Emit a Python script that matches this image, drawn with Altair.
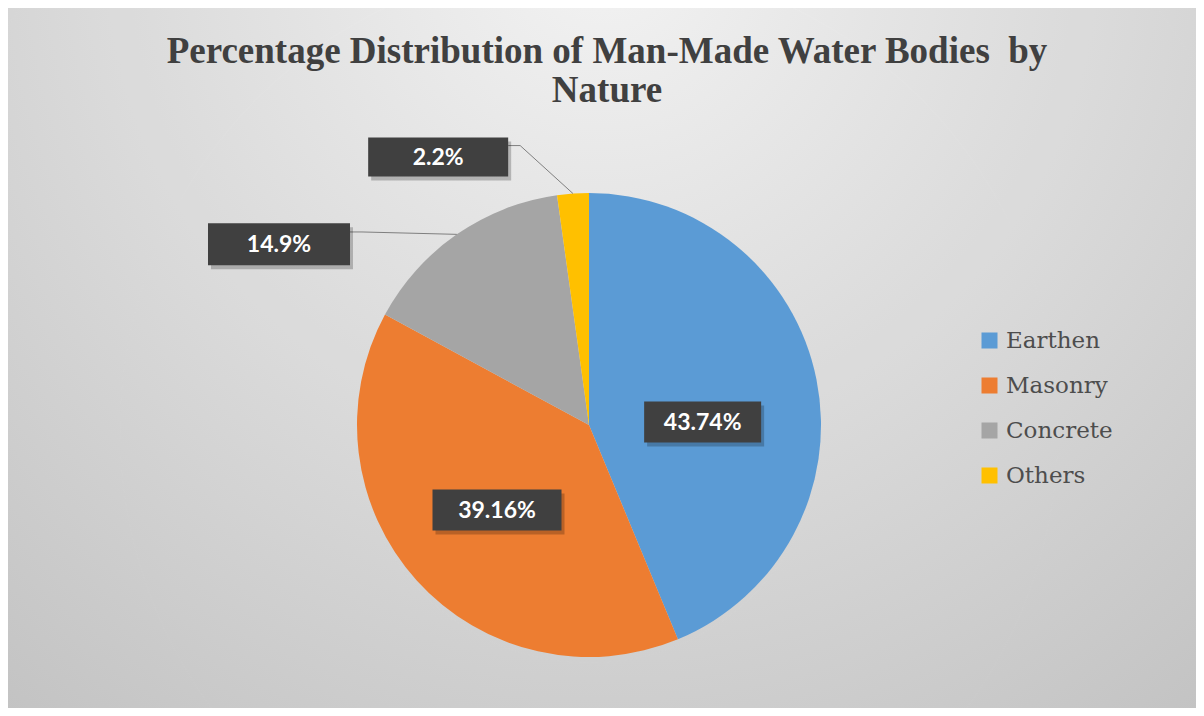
import math
import numpy as np
import pandas as pd
import altair as alt

# ---------------- data ----------------
CATEGORIES = ["Earthen", "Masonry", "Concrete", "Others"]
VALUES = [43.74, 39.16, 14.9, 2.2]
LABELS = ["43.74%", "39.16%", "14.9%", "2.2%"]
COLORS = ["#5B9BD5", "#ED7D31", "#A5A5A5", "#FFC000"]
TITLE = "Percentage Distribution of Man-Made Water Bodies\u00a0 by\nNature"

# ---------------- layout / style ----------------
W, H = 1188, 700
CX, CY, R = 581, 417, 232
LABEL_RADIUS_FACTOR = [0.49, 0.54, 1.547, 1.326]
LABEL_ANGLE_SHIFT = [9.8, -0.7, -25.0, -25.4]
BOX_W = [117, 129, 142, 140]
BOX_H = [41, 41, 42, 39]
HAS_LEADER = [False, False, True, True]

vals = np.array(VALUES, dtype=float)
total = vals.sum()
start = np.cumsum(vals) - vals
mid_deg = (start + vals / 2) / total * 360.0

lab_deg = mid_deg + np.array(LABEL_ANGLE_SHIFT)
lab_r = np.array(LABEL_RADIUS_FACTOR) * R
lx = CX + lab_r * np.sin(np.radians(lab_deg))
ly = CY - lab_r * np.cos(np.radians(lab_deg))
ex = CX + R * np.sin(np.radians(mid_deg))
ey = CY - R * np.cos(np.radians(mid_deg))

pie_df = pd.DataFrame({"category": CATEGORIES, "value": VALUES, "idx": range(len(VALUES))})

box_df = pd.DataFrame({
    "label": LABELS,
    "x": lx - np.array(BOX_W) / 2, "x2": lx + np.array(BOX_W) / 2,
    "y": ly - np.array(BOX_H) / 2, "y2": ly + np.array(BOX_H) / 2,
    "cx": lx, "cy": ly,
})
shadow_box_df = box_df.copy()
for c in ["x", "x2"]:
    shadow_box_df[c] = shadow_box_df[c] + 3
for c in ["y", "y2"]:
    shadow_box_df[c] = shadow_box_df[c] + 4

rows = []
for i, lab in enumerate(LABELS):
    if not HAS_LEADER[i]:
        continue
    ax = lx[i] + BOX_W[i] / 2
    ay = ly[i] - 0.29 * BOX_H[i]
    rows += [
        {"label": lab, "seq": 0, "x": ax, "y": ay},
        {"label": lab, "seq": 1, "x": ax + 12, "y": ay},
        {"label": lab, "seq": 2, "x": ex[i], "y": ey[i]},
    ]
leader_df = pd.DataFrame(rows)

one = pd.DataFrame({"a": [0]})

bg_gradient = {
    "gradient": "radial",
    "x1": 0.5, "y1": 0.16, "r1": 0.0,
    "x2": 0.5, "y2": 0.16, "r2": 0.95,
    "stops": [
        {"offset": 0.0, "color": "#fcfcfc"},
        {"offset": 0.45, "color": "#e2e2e2"},
        {"offset": 1.0, "color": "#c2c2c2"},
    ],
}

background = alt.Chart(one).mark_rect(fill=bg_gradient).encode(
    x=alt.value(-8), x2=alt.value(W + 8), y=alt.value(-8), y2=alt.value(H + 8)
)

shadow_df = pd.DataFrame({"r": [233, 236, 239, 242, 245, 248, 251, 254]})
pie_shadow = alt.Chart(shadow_df).mark_arc(theta=0, theta2=2 * math.pi, color="black", opacity=0.035).encode(
    radius=alt.Radius("r:Q", scale=None),
    x=alt.value(CX), y=alt.value(CY + 5),
)

pie = alt.Chart(pie_df).mark_arc(radius=R).encode(
    theta=alt.Theta("value:Q", stack=True),
    color=alt.Color(
        "category:N",
        scale=alt.Scale(domain=CATEGORIES, range=COLORS),
        legend=alt.Legend(
            title=None, orient="none", legendX=970, legendY=321,
            symbolType="square", symbolSize=256, symbolStrokeWidth=0, symbolOpacity=1,
            labelFont="DejaVu Serif", labelFontSize=23, labelColor="#4d4d4d",
            rowPadding=21, labelOffset=5, padding=0, labelLimit=300,
        ),
    ),
    order=alt.Order("idx:Q", sort="ascending"),
    x=alt.value(CX), y=alt.value(CY),
)

leaders = alt.Chart(leader_df).mark_line(color="#7f7f7f", strokeWidth=1).encode(
    x=alt.X("x:Q", scale=None, axis=None),
    y=alt.Y("y:Q", scale=None, axis=None),
    detail="label:N",
    order="seq:O",
)

box_shadow = alt.Chart(shadow_box_df).mark_rect(color="black", opacity=0.22).encode(
    x=alt.X("x:Q", scale=None, axis=None), x2="x2:Q",
    y=alt.Y("y:Q", scale=None, axis=None), y2="y2:Q",
)

boxes = alt.Chart(box_df).mark_rect(color="#404040").encode(
    x=alt.X("x:Q", scale=None, axis=None), x2="x2:Q",
    y=alt.Y("y:Q", scale=None, axis=None), y2="y2:Q",
)

texts = alt.Chart(box_df).mark_text(
    font="Lato", fontWeight="bold", fontSize=23, color="white", align="center", baseline="middle", dy=1
).encode(
    x=alt.X("cx:Q", scale=None, axis=None),
    y=alt.Y("cy:Q", scale=None, axis=None),
    text="label:N",
)

title = alt.Chart(pd.DataFrame({"t": [TITLE]})).mark_text(
    font="Liberation Serif", fontWeight="bold", fontSize=37, color="#404040",
    align="center", baseline="alphabetic", lineBreak="\n", lineHeight=39,
).encode(text="t:N", x=alt.value(599), y=alt.value(55))

chart = alt.layer(
    background, pie_shadow, pie, leaders, box_shadow, boxes, texts, title
).properties(
    width=W, height=H, padding=0, autosize=alt.AutoSizeParams(type="none")
).configure_view(stroke=None)

chart.save("out.html", embed_options={"renderer": "svg", "actions": False})
